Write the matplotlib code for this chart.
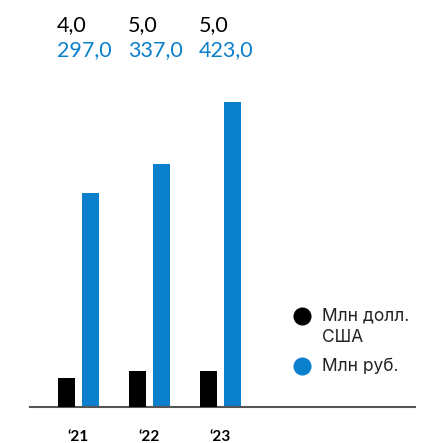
import matplotlib.pyplot as plt
import numpy as np

years = ["‘21", "‘22", "‘23"]
usd = [4.0, 5.0, 5.0]          # млн долл. США
rub = [297.0, 337.0, 423.0]    # млн руб.

black = "#000000"
blue = "#0A7FCB"
W, H = 427, 443

plt.rcParams['font.family'] = ['Lato', 'DejaVu Sans']

fig = plt.figure(figsize=(W / 100, H / 100), dpi=100)

# axes box in pixels: left 30, right 415, baseline 407, top 90
ax = fig.add_axes([30 / W, (H - 407) / H, 385 / W, 317 / H])
ax2 = ax.twinx()

x = np.arange(len(years))
bw = 0.24
off = 0.169

ax.bar(x + off, rub, bw, color=blue, zorder=2)
ax2.bar(x - off, usd, bw, color=black, zorder=2)

ax.set_xlim(-0.683, 4.739)
ax.set_ylim(0, 317 / 0.721)
ax2.set_ylim(0, 317 / 7.2)

for a in (ax, ax2):
    for s in ("top", "right", "left"):
        a.spines[s].set_visible(False)
    a.set_yticks([])
ax2.spines["bottom"].set_visible(False)
ax.spines["bottom"].set_color("#555555")
ax.spines["bottom"].set_linewidth(1.5)

# year labels under each group
ax.set_xticks([])
for i, lab in enumerate(years):
    fig.text((78 + i * 71) / W, 1 - 437 / H, lab, fontsize=11, fontweight="bold",
             ha="center", va="center")

# values above the chart
for i in range(len(years)):
    px = 57 + i * 71
    fig.text(px / W, 1 - 25 / H, f"{usd[i]:.1f}".replace(".", ","), color=black,
             fontsize=15.5, va="center", ha="left")
    fig.text(px / W, 1 - 50 / H, f"{rub[i]:.1f}".replace(".", ","), color=blue,
             fontsize=15.5, va="center", ha="left")

# legend
lg = dict(fontsize=12.5, va="center", color="#222222", family=["Inter", "DejaVu Sans"])
fig.lines.append(plt.Line2D([302 / W], [1 - 316 / H], marker="o", markersize=12,
                            color=black, transform=fig.transFigure))
fig.lines.append(plt.Line2D([302 / W], [1 - 366 / H], marker="o", markersize=12,
                            color=blue, transform=fig.transFigure))
fig.text(322 / W, 1 - 316 / H, "Млн долл.", **lg)
fig.text(322 / W, 1 - 338 / H, "США", **lg)
fig.text(322 / W, 1 - 366 / H, "Млн руб.", **lg)

fig.savefig("out.png", dpi=100)
